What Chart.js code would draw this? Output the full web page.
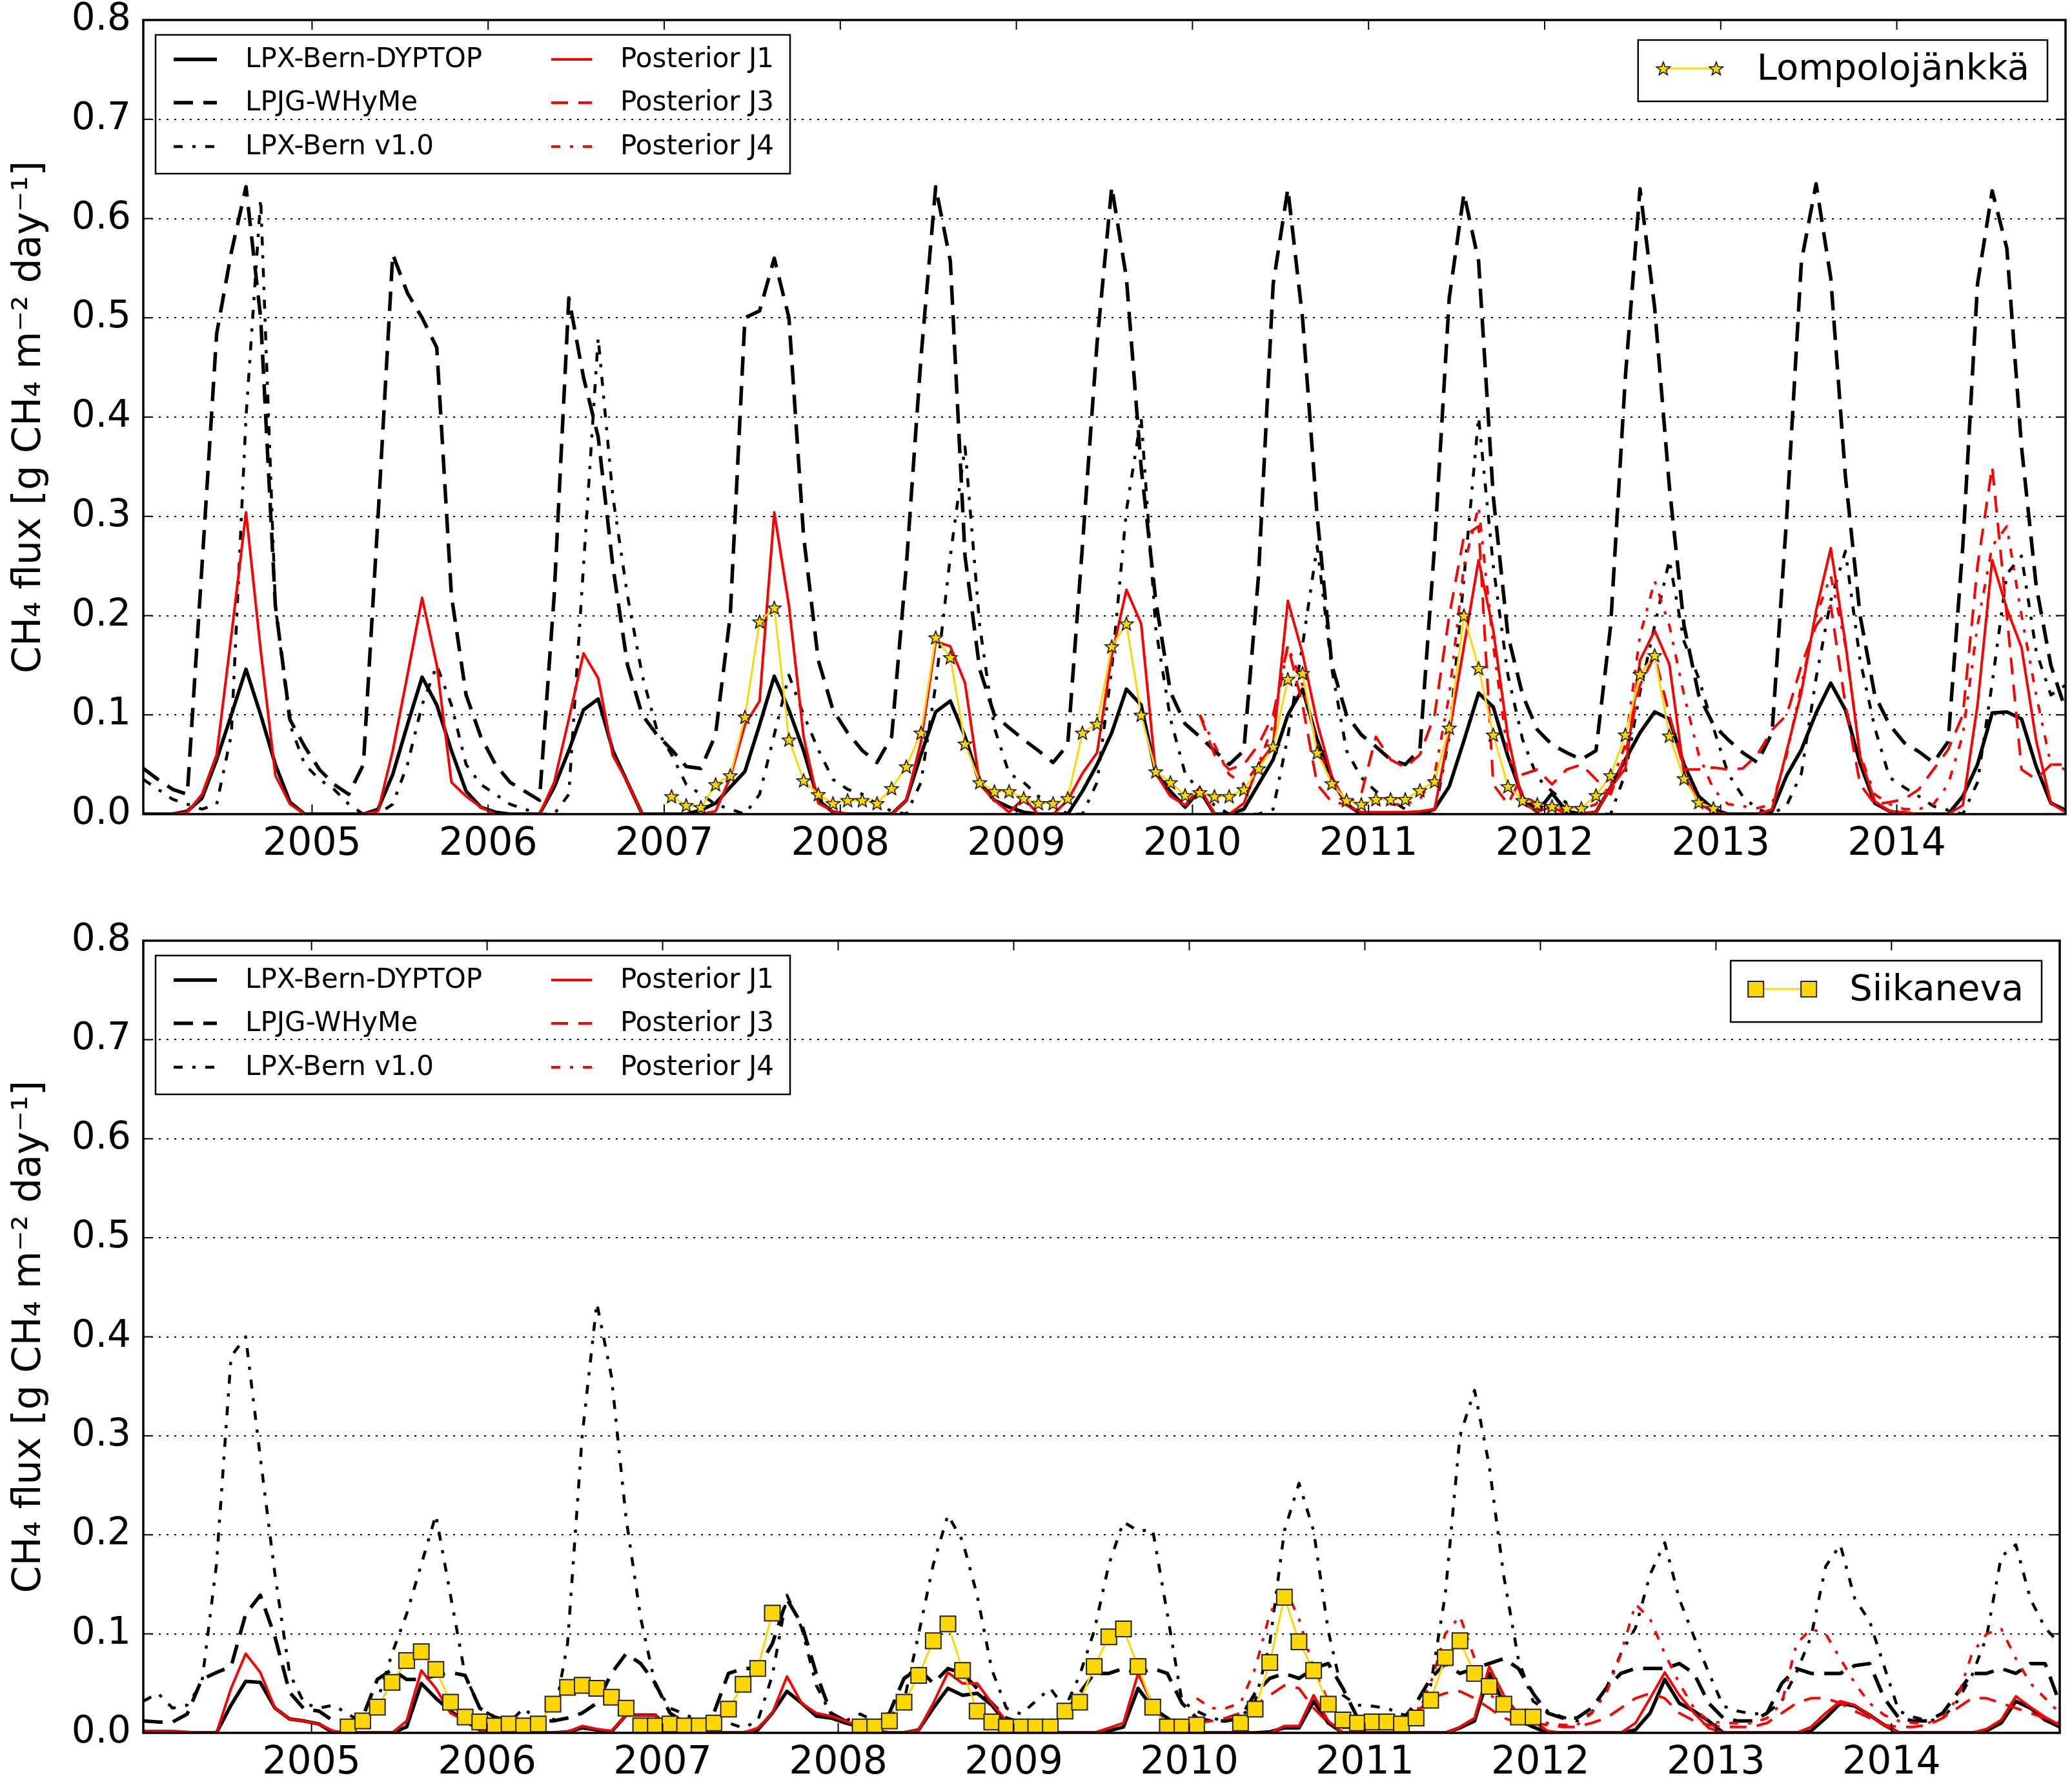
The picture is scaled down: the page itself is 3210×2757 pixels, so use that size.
<!DOCTYPE html>
<html><head><meta charset="utf-8">
<script src="https://cdn.jsdelivr.net/npm/chart.js@4.4.0/dist/chart.umd.min.js"></script>
<style>
html,body{margin:0;padding:0;background:#fff;}
body{width:3210px;height:2757px;position:relative;overflow:hidden;}
canvas{position:absolute;left:0;}
</style></head><body>
<canvas id="c1" width="3210" height="1380" style="top:0;width:3210px;height:1380px"></canvas>
<canvas id="c2" width="3210" height="1377" style="top:1380px;width:3210px;height:1377px"></canvas>
<script>
// ---------- categories / ticks ----------
const firstYear = 2004;
const monthCount = 132;                 // Jan 2004 .. Dec 2014, monthly
const monthX = Array.from({length: monthCount}, (_, i) => firstYear + (i + 0.5) / 12);
const yearTicks = [2005, 2006, 2007, 2008, 2009, 2010, 2011, 2012, 2013, 2014];
const fluxTicks = [0, 0.1, 0.2, 0.3, 0.4, 0.5, 0.6, 0.7, 0.8];
const seriesNames = ['LPX-Bern-DYPTOP', 'LPJG-WHyMe', 'LPX-Bern v1.0', 'Posterior J1', 'Posterior J3', 'Posterior J4'];
const siteNames = ['Lompolojänkkä', 'Siikaneva'];
const yTitle = 'CH₄ flux [g CH₄ m⁻² day⁻¹]';
const posteriorStart = 72;   // J3/J4 begin Jan 2010
const lomObsStart = 36;      // Lompolojänkkä obs begin Jan 2007
const siiObsStart = 14;      // Siikaneva obs begin Mar 2005

// ---------- Lompolojänkkä panel ----------
const lomDyptop = [
 0,0,0,0.003,0.016,0.055,0.10,0.146,0.10,0.05,0.012,0,
 0,0,0,0,0.005,0.04,0.09,0.138,0.11,0.064,0.023,0.007,
 0.002,0,0,0,0.027,0.064,0.105,0.116,0.064,0.032,0,0,
 0,0,0.004,0.011,0.027,0.043,0.09,0.139,0.105,0.064,0.014,0.002,
 0,0,0,0,0.014,0.06,0.103,0.114,0.078,0.032,0.014,0.007,
 0.002,0,0,0,0.023,0.05,0.082,0.126,0.11,0.041,0.023,0.007,
 0.024,0,0,0.005,0.03,0.055,0.10,0.126,0.075,0.035,0.01,0,
 0,0,0,0,0.005,0.028,0.074,0.122,0.108,0.058,0.017,0.002,
 0.021,0.003,0,0.002,0.027,0.055,0.082,0.103,0.096,0.05,0.018,0.005,
 0,0,0,0.003,0.039,0.065,0.102,0.132,0.105,0.051,0.011,0.003,
 0,0,0,0,0.018,0.05,0.102,0.103,0.096,0.048,0.011,0.004];
const lomLpjg = [
 0.046,0.035,0.025,0.02,0.25,0.484,0.566,0.632,0.50,0.21,0.095,0.068,
 0.045,0.03,0.02,0.05,0.30,0.564,0.525,0.50,0.47,0.22,0.12,0.078,
 0.05,0.032,0.023,0.014,0.22,0.52,0.44,0.38,0.25,0.15,0.10,0.08,
 0.065,0.048,0.046,0.08,0.20,0.50,0.507,0.56,0.50,0.28,0.155,0.105,
 0.082,0.064,0.052,0.078,0.25,0.46,0.632,0.557,0.26,0.146,0.10,0.087,
 0.075,0.064,0.052,0.07,0.27,0.475,0.632,0.54,0.35,0.215,0.123,0.091,
 0.078,0.064,0.05,0.064,0.24,0.534,0.63,0.50,0.30,0.15,0.10,0.08,
 0.068,0.055,0.05,0.065,0.27,0.52,0.625,0.557,0.32,0.18,0.12,0.085,
 0.07,0.062,0.055,0.064,0.19,0.44,0.63,0.51,0.33,0.19,0.12,0.09,
 0.075,0.062,0.052,0.082,0.30,0.557,0.635,0.54,0.34,0.20,0.12,0.09,
 0.072,0.063,0.052,0.073,0.27,0.534,0.628,0.57,0.37,0.23,0.15,0.105];
const lomV1 = [
 0.035,0.025,0.015,0.01,0.005,0.01,0.08,0.40,0.62,0.21,0.09,0.05,
 0.035,0.025,0.01,0,0,0.01,0.05,0.11,0.15,0.11,0.05,0.03,
 0.02,0.01,0.005,0,0,0.02,0.25,0.48,0.32,0.22,0.14,0.085,
 0.06,0.03,0.02,0.01,0.005,0,0.02,0.08,0.14,0.10,0.065,0.035,
 0.025,0.02,0.01,0.003,0,0.032,0.13,0.26,0.37,0.19,0.087,0.041,
 0.032,0.018,0.011,0,0,0.032,0.146,0.306,0.40,0.187,0.096,0.041,
 0.023,0.009,0,0,0,0.005,0.078,0.17,0.27,0.146,0.064,0.037,
 0.023,0.014,0.005,0,0,0.078,0.237,0.40,0.25,0.14,0.075,0.037,
 0.023,0.011,0.004,0,0,0.041,0.123,0.19,0.256,0.174,0.137,0.087,
 0.041,0.018,0.005,0,0.009,0.041,0.137,0.215,0.265,0.155,0.087,0.037,
 0.027,0.018,0.008,0.004,0,0.032,0.132,0.242,0.26,0.164,0.12,0.13];
const lomJ1 = [
 0,0,0,0.002,0.02,0.06,0.18,0.304,0.165,0.039,0.01,0,
 0,0,0,0,0.003,0.064,0.14,0.218,0.15,0.032,0.018,0.007,
 0,0,0,0,0.032,0.096,0.162,0.137,0.059,0.032,0,0,
 0,0,0,0.003,0.037,0.09,0.114,0.304,0.21,0.078,0.011,0.003,
 0,0,0,0,0.014,0.073,0.174,0.169,0.132,0.03,0.014,0.002,
 0.016,0,0,0.014,0.041,0.062,0.16,0.226,0.192,0.041,0.018,0.009,
 0.027,0,0,0.011,0.05,0.07,0.215,0.162,0.092,0.038,0.009,0.002,
 0.002,0.002,0.002,0.003,0.005,0.082,0.169,0.256,0.185,0.078,0.011,0.003,
 0.007,0,0,0.002,0.027,0.046,0.155,0.185,0.151,0.041,0.011,0.002,
 0,0,0,0.005,0.064,0.123,0.205,0.268,0.172,0.058,0.013,0.003,
 0.002,0,0,0,0.009,0.11,0.256,0.207,0.168,0.074,0.011,0.002];
const lomJ3 = [
 0.10,0.06,0.045,0.05,0.07,0.10,0.17,0.11,0.03,0.012,0.01,0.02,
 0.078,0.055,0.047,0.06,0.10,0.20,0.28,0.29,0.03,0.01,0.04,0.045,
 0.03,0.045,0.05,0.035,0.02,0.06,0.13,0.16,0.10,0.045,0.045,0.047,
 0.045,0.046,0.06,0.085,0.10,0.15,0.19,0.21,0.11,0.03,0.01,0.012,
 0.015,0.025,0.045,0.065,0.10,0.25,0.35,0.20,0.045,0.035,0.05,0.045];
const lomJ4 = [
 0.10,0.07,0.04,0.03,0.05,0.09,0.17,0.13,0.07,0.03,0.015,0.01,
 0.01,0.01,0.01,0.015,0.04,0.12,0.25,0.31,0.17,0.06,0.02,0.01,
 0.005,0.005,0.005,0.01,0.03,0.07,0.18,0.235,0.19,0.12,0.06,0.025,
 0.01,0.008,0.006,0.01,0.06,0.13,0.20,0.24,0.17,0.06,0.02,0.01,
 0.005,0.005,0.01,0.03,0.08,0.19,0.27,0.29,0.20,0.12,0.05,0.05];
const lomObs = [
 0.018,0.009,0.007,0.03,0.039,0.098,0.194,0.208,0.075,0.034,0.02,0.011,
 0.014,0.014,0.011,0.026,0.048,0.082,0.178,0.158,0.071,0.032,0.023,0.023,
 0.016,0.011,0.011,0.016,0.082,0.091,0.169,0.192,0.10,0.043,0.032,0.019,
 0.022,0.018,0.018,0.025,0.046,0.068,0.136,0.142,0.062,0.031,0.014,0.01,
 0.015,0.015,0.015,0.024,0.033,0.087,0.20,0.147,0.08,0.028,0.014,0.01,
 0.008,0.006,0.006,0.019,0.039,0.08,0.141,0.16,0.079,0.036,0.012,0.006];

// ---------- Siikaneva panel ----------
const siiDyptop = [
 0,0,0,0,0,0,0.028,0.052,0.051,0.025,0.014,0.012,
 0.009,0,0,0,0,0,0.006,0.05,0.035,0.022,0.012,0.003,
 0,0,0,0,0,0.001,0.005,0.003,0.001,0.018,0.018,0.018,
 0.003,0,0,0,0,0,0.003,0.02,0.042,0.03,0.017,0.015,
 0.01,0.006,0.002,0,0,0.003,0.025,0.045,0.038,0.04,0.028,0.01,
 0.002,0,0,0,0,0,0.002,0.006,0.045,0.025,0.015,0.003,
 0,0,0,0,0,0.001,0.005,0.005,0.032,0.01,0,0,
 0,0,0,0,0,0,0.005,0.012,0.06,0.03,0.013,0.006,
 0,0,0,0,0,0,0.003,0.02,0.054,0.03,0.022,0.012,
 0,0,0,0,0,0,0.002,0.015,0.03,0.027,0.018,0.008,
 0,0,0,0,0,0,0.002,0.01,0.032,0.025,0.013,0.006];
const siiLpjg = [
 0.012,0.011,0.011,0.019,0.054,0.061,0.067,0.12,0.139,0.097,0.041,0.024,
 0.022,0.012,0.012,0.016,0.054,0.064,0.054,0.054,0.058,0.061,0.058,0.025,
 0.016,0.012,0.012,0.012,0.012,0.015,0.02,0.03,0.06,0.08,0.07,0.05,
 0.02,0.01,0.008,0.02,0.06,0.065,0.065,0.09,0.135,0.11,0.06,0.02,
 0.012,0.012,0.012,0.02,0.055,0.065,0.05,0.065,0.06,0.045,0.03,0.015,
 0.01,0.012,0.012,0.02,0.04,0.06,0.06,0.065,0.06,0.065,0.06,0.03,
 0.015,0.012,0.012,0.015,0.04,0.055,0.06,0.055,0.065,0.07,0.045,0.015,
 0.01,0.01,0.012,0.03,0.055,0.07,0.06,0.065,0.07,0.075,0.065,0.04,
 0.02,0.015,0.015,0.025,0.045,0.06,0.065,0.065,0.065,0.07,0.06,0.03,
 0.015,0.012,0.012,0.02,0.05,0.065,0.06,0.06,0.06,0.068,0.07,0.035,
 0.015,0.012,0.012,0.02,0.04,0.06,0.06,0.065,0.06,0.07,0.07,0.03];
const siiV1 = [
 0.032,0.04,0.025,0.028,0.05,0.17,0.38,0.40,0.278,0.16,0.06,0.03,
 0.025,0.028,0.019,0.01,0.032,0.08,0.12,0.17,0.22,0.139,0.058,0.025,
 0.016,0.01,0.025,0.012,0.01,0.09,0.30,0.434,0.36,0.217,0.116,0.048,
 0.025,0.019,0.012,0.01,0.01,0.005,0.012,0.058,0.139,0.106,0.048,0.019,
 0.012,0.019,0.012,0.015,0.032,0.10,0.17,0.22,0.194,0.139,0.064,0.025,
 0.019,0.032,0.045,0.025,0.058,0.103,0.17,0.213,0.204,0.205,0.12,0.032,
 0.022,0.015,0.012,0.015,0.032,0.09,0.204,0.252,0.204,0.103,0.038,0.028,
 0.027,0.025,0.019,0.015,0.048,0.14,0.30,0.346,0.27,0.158,0.074,0.032,
 0.022,0.016,0.012,0.02,0.045,0.08,0.106,0.16,0.192,0.135,0.097,0.061,
 0.027,0.022,0.019,0.02,0.032,0.061,0.097,0.168,0.19,0.135,0.113,0.067,
 0.022,0.016,0.012,0.015,0.032,0.058,0.097,0.178,0.19,0.135,0.106,0.09];
const siiJ1 = [
 0.002,0.002,0.002,0.001,0,0,0.045,0.08,0.061,0.025,0.014,0.012,
 0.009,0.002,0,0,0,0,0.012,0.063,0.045,0.02,0.012,0.003,
 0,0,0,0,0,0.001,0.007,0.004,0.002,0.018,0.018,0.018,
 0.002,0,0,0,0,0,0.005,0.02,0.057,0.03,0.02,0.017,
 0.012,0.006,0.002,0,0,0.003,0.03,0.061,0.05,0.05,0.03,0.012,
 0.002,0,0,0,0,0,0.005,0.01,0.06,0.028,0.006,0,
 0,0,0,0,0,0,0.007,0.007,0.038,0.012,0,0,
 0,0,0,0,0,0,0.006,0.015,0.067,0.038,0.019,0.012,
 0.002,0,0,0,0,0,0.01,0.035,0.061,0.038,0.02,0.005,
 0,0,0,0,0,0,0.006,0.02,0.032,0.028,0.018,0.008,
 0,0,0,0,0,0,0.004,0.013,0.037,0.026,0.016,0.008];
const siiJ3 = [
 0.01,0.012,0.015,0.02,0.028,0.038,0.048,0.045,0.025,0.01,0.005,0.005,
 0.005,0.008,0.012,0.02,0.035,0.04,0.042,0.035,0.025,0.015,0.01,0.01,
 0.008,0.006,0.006,0.01,0.015,0.025,0.035,0.04,0.035,0.02,0.012,0.008,
 0.006,0.006,0.006,0.01,0.02,0.03,0.035,0.035,0.03,0.022,0.015,0.008,
 0.006,0.006,0.008,0.015,0.025,0.035,0.035,0.03,0.025,0.02,0.015,0.01];
const siiJ4 = [
 0.035,0.025,0.025,0.03,0.065,0.12,0.148,0.115,0.065,0.032,0.015,0.01,
 0.01,0.01,0.012,0.02,0.05,0.10,0.118,0.075,0.04,0.025,0.015,0.012,
 0.01,0.008,0.008,0.02,0.04,0.08,0.13,0.115,0.08,0.05,0.025,0.012,
 0.01,0.01,0.01,0.015,0.03,0.09,0.105,0.10,0.075,0.05,0.03,0.018,
 0.012,0.01,0.01,0.015,0.035,0.08,0.10,0.105,0.075,0.05,0.035,0.02];
const siiObs = [
 0.006,0.012,0.026,0.051,0.073,0.082,0.064,0.031,0.016,0.011,
 0.007,0.009,0.007,0.009,0.029,0.046,0.048,0.045,0.036,0.025,0.007,0.007,
 0.009,0.007,0.007,0.01,0.024,0.049,0.065,0.121,null,null,null,null,
 null,0.006,0.006,0.012,0.031,0.058,0.093,0.11,0.063,0.022,0.011,0.006,
 0.006,0.006,0.006,0.022,0.031,0.067,0.097,0.105,0.067,0.026,0.006,0.006,
 0.008,null,null,0.01,0.024,0.071,0.137,0.092,0.063,0.029,0.013,0.01,
 0.011,0.011,0.009,0.015,0.033,0.076,0.093,0.06,0.047,0.029,0.016,0.016];

// ---------- styling ----------
const GOLD = '#FFD700', RED = '#FF0000', BLACK = '#000000';
const FONT = '"DejaVu Sans", sans-serif';
Chart.defaults.font.family = FONT;
Chart.defaults.color = '#000';

const starImg = (() => {
  const s = 26, c = document.createElement('canvas');
  c.width = s; c.height = s;
  const g = c.getContext('2d');
  const cx = s / 2, cy = s / 2 + 1, R = 11, r = 4.6;
  g.beginPath();
  for (let k = 0; k < 10; k++) {
    const a = -Math.PI / 2 + k * Math.PI / 5, rad = k % 2 ? r : R;
    g.lineTo(cx + rad * Math.cos(a), cy + rad * Math.sin(a));
  }
  g.closePath();
  g.fillStyle = GOLD; g.fill();
  g.lineWidth = 1.5; g.strokeStyle = '#000'; g.lineJoin = 'miter'; g.stroke();
  return c;
})();

const pts = (vals, start = 0) => vals.map((v, k) => ({x: monthX[start + k], y: v}));

function lineDS(label, data, color, width, dash, order) {
  return {label, data, borderColor: color, backgroundColor: color, borderWidth: width,
    borderDash: dash, pointRadius: 0, pointHoverRadius: 0, tension: 0, fill: false,
    order, borderJoinStyle: 'round', spanGaps: false};
}

const DASH = [30, 16], DASHDOT = [14, 15, 5, 15], RDASH = [26, 16];

const panelDecor = {
  id: 'panelDecor',
  afterDraw(chart, args, o) {
    const {ctx, chartArea: a, scales} = chart;
    ctx.save();
    const seg = (x1, y1, x2, y2) => { ctx.beginPath(); ctx.moveTo(x1, y1); ctx.lineTo(x2, y2); ctx.stroke(); };
    ctx.strokeStyle = '#000'; ctx.lineWidth = 2; ctx.setLineDash([]);
    const tl = 15;
    yearTicks.forEach(v => { const px = scales.x.getPixelForValue(v); seg(px, a.bottom, px, a.bottom - tl); seg(px, a.top, px, a.top + tl); });
    fluxTicks.forEach(v => { const py = scales.y.getPixelForValue(v); seg(a.left, py, a.left + tl, py); seg(a.right, py, a.right - tl, py); });
    ctx.lineWidth = 3.5;
    ctx.strokeRect(a.left, a.top, a.right - a.left, a.bottom - a.top);

    // model legend (two columns, three rows)
    const ds = chart.data.datasets;
    const bx = a.left + 19, by = a.top + 23;
    ctx.lineWidth = 2.5; ctx.strokeStyle = '#000';
    ctx.strokeRect(bx, by, 983, 215);
    ctx.font = '42px ' + FONT; ctx.fillStyle = '#000'; ctx.textBaseline = 'middle'; ctx.textAlign = 'left';
    const rows = [61, 128, 196];
    for (let k = 0; k < 6; k++) {
      const col = Math.floor(k / 3), row = k % 3;
      const y = a.top + rows[row];
      const sx = a.left + (col ? 632 : 47), ex = a.left + (col ? 695 : 114), tx = a.left + (col ? 739 : 158);
      const d = ds[k];
      ctx.save();
      ctx.strokeStyle = d.borderColor; ctx.lineWidth = d.borderWidth; ctx.setLineDash(d.borderDash || []);
      ctx.lineCap = 'butt';
      seg(sx, y, ex, y);
      ctx.restore();
      ctx.fillText(d.label, tx, y + 1);
    }

    // site legend (top right)
    const obs = ds[6];
    ctx.font = '56px ' + FONT;
    const tw = ctx.measureText(obs.label).width;
    const bw = 39 + 82 + 63 + tw + 28;
    const rx = a.right - 28 - bw, ry = a.top + 31, bh = 95;
    ctx.lineWidth = 2.5; ctx.strokeStyle = '#000'; ctx.setLineDash([]);
    ctx.strokeRect(rx, ry, bw, bh);
    const my = ry + 44, m1 = rx + 39, m2 = m1 + 82;
    ctx.strokeStyle = GOLD; ctx.lineWidth = 3; seg(m1, my, m2, my);
    [m1, m2].forEach(mx => {
      if (o.marker === 'star') {
        ctx.drawImage(starImg, mx - starImg.width / 2, my - starImg.height / 2);
      } else {
        ctx.fillStyle = GOLD; ctx.fillRect(mx - 12, my - 12, 24, 24);
        ctx.strokeStyle = '#222'; ctx.lineWidth = 2; ctx.strokeRect(mx - 12, my - 12, 24, 24);
      }
    });
    ctx.fillStyle = '#000'; ctx.textBaseline = 'middle';
    ctx.fillText(obs.label, m2 + 63, my + 2);
    ctx.restore();
  }
};

function buildPanel(canvasId, s, padTop, xHeight) {
  const obsDS = {
    label: s.site, data: pts(s.obs, s.obsStart), borderColor: GOLD, backgroundColor: GOLD,
    borderWidth: 3, tension: 0, fill: false, spanGaps: false, order: 1,
    pointStyle: s.marker === 'star' ? starImg : 'rect',
    pointRadius: s.marker === 'star' ? 8 : 17, pointHoverRadius: s.marker === 'star' ? 8 : 17,
    pointBackgroundColor: GOLD, pointBorderColor: '#222', pointBorderWidth: 2
  };
  const datasets = [
    lineDS(seriesNames[0], pts(s.dyptop), BLACK, 5.5, [], 5),
    lineDS(seriesNames[1], pts(s.lpjg), BLACK, 5.5, DASH, 7),
    lineDS(seriesNames[2], pts(s.v1), BLACK, 4.5, DASHDOT, 6),
    lineDS(seriesNames[3], pts(s.j1), RED, 4, [], 2),
    lineDS(seriesNames[4], pts(s.j3, posteriorStart), RED, 4, RDASH, 3),
    lineDS(seriesNames[5], pts(s.j4, posteriorStart), RED, 4, DASHDOT, 4),
    obsDS
  ];
  return new Chart(document.getElementById(canvasId), {
    type: 'line',
    data: {datasets},
    plugins: [panelDecor],
    options: {
      responsive: false, animation: false, events: [],
      layout: {padding: {top: padTop, right: 10, left: 0, bottom: 0}},
      plugins: {legend: {display: false}, tooltip: {enabled: false}, panelDecor: {marker: s.marker}},
      scales: {
        x: {
          type: 'linear', min: monthX[0], max: monthX[monthCount - 1],
          afterBuildTicks: sc => { sc.ticks = yearTicks.map(v => ({value: v})); },
          afterFit: sc => { sc.height = xHeight; sc.paddingLeft = 0; sc.paddingRight = 0; },
          ticks: {font: {size: 60}, color: '#000', padding: 11, autoSkip: false, maxRotation: 0,
                  callback: v => String(v)},
          grid: {display: false, drawTicks: false},
          border: {display: false}
        },
        y: {
          type: 'linear', min: 0, max: 0.8,
          afterBuildTicks: sc => { sc.ticks = fluxTicks.map(v => ({value: v})); },
          afterFit: sc => { sc.width = 222; sc.paddingTop = 0; sc.paddingBottom = 0; },
          ticks: {font: {size: 58}, color: '#000', padding: 19, callback: v => Number(v).toFixed(1)},
          grid: {color: '#000', lineWidth: 2, drawTicks: false},
          border: {display: false, dash: [3, 9]},
          title: {display: true, text: yTitle, font: {size: 60}, color: '#000', padding: {top: 10, bottom: 0}}
        }
      }
    }
  });
}

buildPanel('c1', {site: siteNames[0], marker: 'star', dyptop: lomDyptop, lpjg: lomLpjg, v1: lomV1,
  j1: lomJ1, j3: lomJ3, j4: lomJ4, obs: lomObs, obsStart: lomObsStart}, 31, 119);
buildPanel('c2', {site: siteNames[1], marker: 'square', dyptop: siiDyptop, lpjg: siiLpjg, v1: siiV1,
  j1: siiJ1, j3: siiJ3, j4: siiJ4, obs: siiObs, obsStart: siiObsStart}, 77, 73);
</script>
</body></html>
